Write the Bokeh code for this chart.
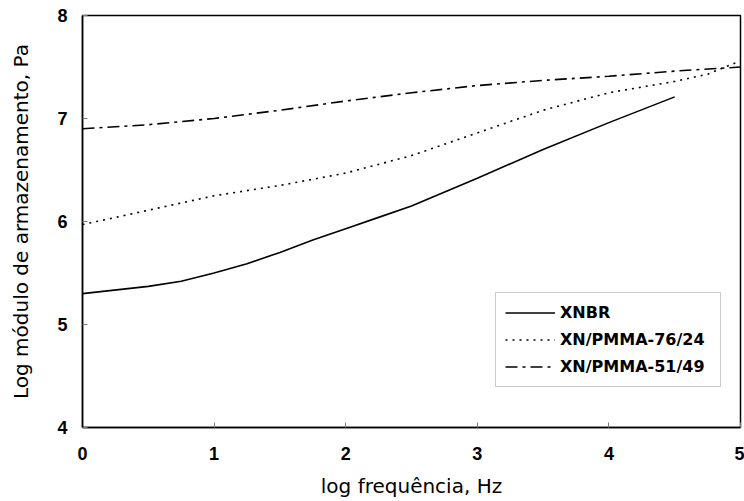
from bokeh.plotting import figure
from bokeh.models import Legend, LegendItem, FixedTicker, Range1d
from bokeh.embed import file_html
from bokeh.resources import INLINE

x_xnbr = [0, 0.5, 0.75, 1, 1.25, 1.5, 1.75, 2, 2.25, 2.5, 3, 3.5, 4, 4.5]
y_xnbr = [5.30, 5.37, 5.42, 5.50, 5.59, 5.70, 5.82, 5.93, 6.04, 6.15, 6.42, 6.70, 6.96, 7.21]

x_7624 = [0, 0.5, 1, 1.5, 2, 2.5, 3, 3.5, 4, 4.5, 4.75, 5]
y_7624 = [5.97, 6.11, 6.25, 6.35, 6.47, 6.64, 6.86, 7.08, 7.25, 7.36, 7.43, 7.56]

x_5149 = [0, 0.5, 1, 1.5, 2, 2.5, 3, 3.5, 4, 4.5, 5]
y_5149 = [6.90, 6.94, 7.00, 7.08, 7.17, 7.25, 7.32, 7.37, 7.41, 7.46, 7.50]

x_ticks = [0, 1, 2, 3, 4, 5]
y_ticks = [4, 5, 6, 7, 8]

p = figure(width=744, height=501, output_backend="svg", toolbar_location=None,
           x_range=Range1d(0, 5), y_range=Range1d(4, 8),
           min_border_left=82, min_border_right=4, min_border_top=15, min_border_bottom=74)
p.background_fill_color = "white"
p.border_fill_color = "white"
p.outline_line_color = "black"
p.outline_line_width = 1.5
p.xgrid.visible = False
p.ygrid.visible = False

r1 = p.line(x_xnbr, y_xnbr, line_color="black", line_width=1.6)
r2 = p.line(x_7624, y_7624, line_color="black", line_width=1.6, line_dash="2 5")
r3 = p.line(x_5149, y_5149, line_color="black", line_width=1.6, line_dash="12 5 3 5")

for ax, ticks in ((p.xaxis[0], x_ticks), (p.yaxis[0], y_ticks)):
    ax.ticker = FixedTicker(ticks=ticks)
    ax.axis_line_color = "black"
    ax.axis_line_width = 1.5
    ax.major_tick_in = 5
    ax.major_tick_out = 0
    ax.major_tick_line_color = "#777777"
    ax.minor_tick_line_color = None
    ax.major_label_text_font = "Liberation Sans"
    ax.major_label_text_font_style = "bold"
    ax.major_label_text_font_size = "18px"
    ax.major_label_text_color = "black"
    ax.axis_label_text_font = "DejaVu Sans"
    ax.axis_label_text_font_style = "normal"
    ax.axis_label_text_font_size = "20px"
    ax.axis_label_text_color = "black"

p.xaxis.major_label_standoff = 19
p.yaxis.major_label_standoff = 15
p.xaxis.axis_label = "log frequência, Hz"
p.yaxis.axis_label = "Log módulo de armazenamento, Pa"
p.xaxis.axis_label_standoff = 11
p.yaxis.axis_label_standoff = 21

legend = Legend(items=[
    LegendItem(label="XNBR", renderers=[r1]),
    LegendItem(label="XN/PMMA-76/24", renderers=[r2]),
    LegendItem(label="XN/PMMA-51/49", renderers=[r3]),
], location=(413, 40))
legend.label_text_font = "DejaVu Sans"
legend.label_text_font_style = "bold"
legend.label_text_font_size = "16px"
legend.label_text_color = "black"
legend.glyph_width = 50
legend.glyph_height = 21
legend.label_height = 21
legend.label_width = 151
legend.label_standoff = 5
legend.spacing = 6
legend.padding = 9
legend.margin = 0
legend.border_line_color = "#999999"
legend.border_line_width = 1
legend.background_fill_alpha = 1
p.add_layout(legend, "center")

open("out.html", "w").write(file_html(p, INLINE))
